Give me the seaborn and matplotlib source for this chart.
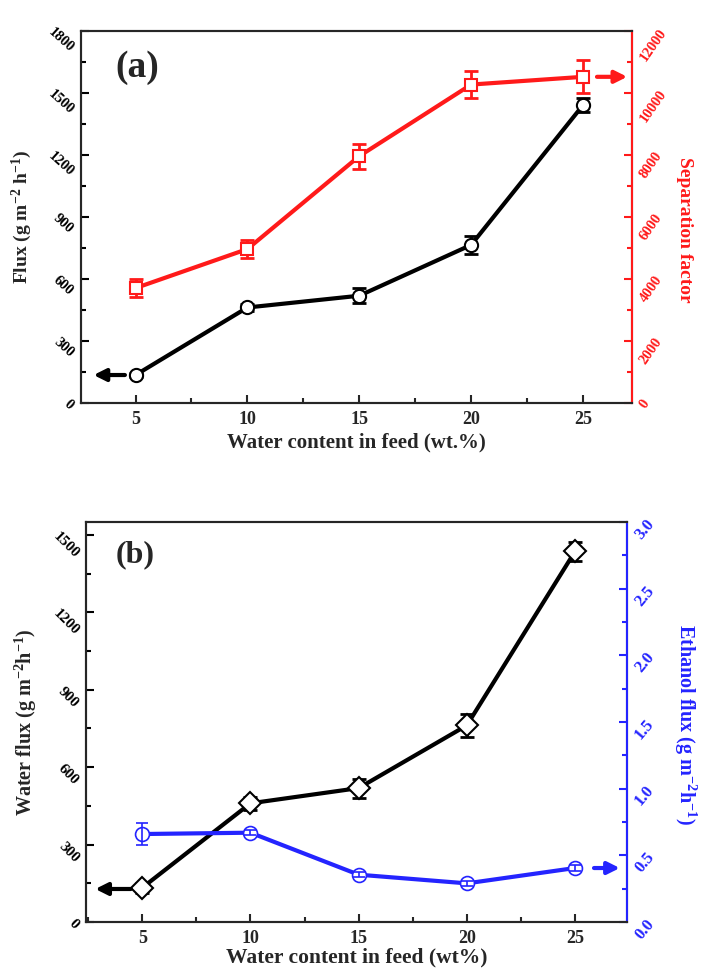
import numpy as np
import pandas as pd
import matplotlib
matplotlib.use("Agg")
import matplotlib.pyplot as plt
from matplotlib.ticker import MultipleLocator
import seaborn as sns

# data
water = [5, 10, 15, 20, 25]
flux_a = [134, 461, 518, 764, 1441]
flux_a_err = [12, 15, 35, 45, 35]
sep_factor = [3700, 4960, 7960, 10270, 10520]
sep_factor_err = [300, 290, 400, 440, 530]

water_flux = [133, 460, 519, 762, 1436]
water_flux_err = [20, 25, 37, 44, 37]
ethanol_flux = [0.66, 0.67, 0.355, 0.29, 0.405]
ethanol_flux_err = [0.085, 0.02, 0.02, 0.02, 0.02]

sns.set_style("ticks")
plt.rcParams['font.family'] = ['Liberation Serif', 'DejaVu Serif']
plt.rcParams['font.weight'] = 'bold'
plt.rcParams['axes.labelweight'] = 'bold'
plt.rcParams['mathtext.fontset'] = 'custom'
plt.rcParams['mathtext.rm'] = 'Liberation Serif:bold'
plt.rcParams['mathtext.default'] = 'rm'

RED = '#ff1a1a'
BLUE = '#2424ff'

df = pd.DataFrame({'water': water, 'flux_a': flux_a, 'sep': sep_factor,
                   'wflux': water_flux, 'eflux': ethanol_flux})

fig = plt.figure(figsize=(7.08, 9.68), dpi=100)


def style_axis(ax, color, side, rot, size=10.5):
    ax.tick_params(axis='y', which='both', direction='in', colors=color,
                   labelsize=size, left=(side == 'left'), right=(side == 'right'),
                   labelleft=(side == 'left'), labelright=(side == 'right'))
    ax.tick_params(axis='y', which='major', length=6, width=1.5)
    ax.tick_params(axis='y', which='minor', length=3.5, width=1.5)
    for t in ax.get_yticklabels():
        t.set_rotation(rot)
        t.set_fontweight('bold')


def style_x(ax, pad=4):
    ax.xaxis.set_major_locator(MultipleLocator(5))
    ax.xaxis.set_minor_locator(MultipleLocator(2.5))
    ax.tick_params(axis='x', which='both', direction='in', labelsize=13, top=False, pad=pad)
    ax.tick_params(axis='x', which='major', length=6, width=1.5)
    ax.tick_params(axis='x', which='minor', length=3.5, width=1.5)
    for t in ax.get_xticklabels():
        t.set_fontweight('bold')


# ---------- panel (a) ----------
ax1 = fig.add_axes([0.114, 0.584, 0.779, 0.384])
ax2 = ax1.twinx()

sns.lineplot(data=df, x='water', y='flux_a', ax=ax1, color='black', lw=3,
             marker='o', markersize=9.5, markerfacecolor='white',
             markeredgecolor='black', markeredgewidth=1.5, zorder=3)
ax1.errorbar(water, flux_a, yerr=flux_a_err, fmt='none', ecolor='black',
             elinewidth=2, capsize=5, capthick=2, zorder=2)
sns.lineplot(data=df, x='water', y='sep', ax=ax2, color=RED, lw=3,
             marker='s', markersize=9, markerfacecolor='white',
             markeredgecolor=RED, markeredgewidth=1.5, zorder=3)
ax2.errorbar(water, sep_factor, yerr=sep_factor_err, fmt='none', ecolor=RED,
             elinewidth=2, capsize=5, capthick=2, zorder=2)

ax1.set_xlim(2.55, 27.2)
ax1.set_ylim(0, 1800)
ax1.yaxis.set_major_locator(MultipleLocator(300))
ax1.yaxis.set_minor_locator(MultipleLocator(150))
ax2.set_ylim(0, 12000)
ax2.yaxis.set_major_locator(MultipleLocator(2000))
ax2.yaxis.set_minor_locator(MultipleLocator(1000))
style_x(ax1, pad=6)
style_axis(ax1, 'black', 'left', -42)
style_axis(ax2, RED, 'right', 55)

for sp in ax1.spines.values():
    sp.set_linewidth(1.5)
for sp in ax2.spines.values():
    sp.set_linewidth(1.5)
ax2.spines['right'].set_color(RED)

ax1.set_xlabel('Water content in feed (wt.%)', fontsize=15, labelpad=3)
ax1.set_ylabel(r'Flux (g m$^{-2}$ h$^{-1}$)', fontsize=14, labelpad=8)
ax2.set_ylabel('Separation factor', fontsize=14, color=RED, rotation=270,
               va='center', ha='center')
ax2.yaxis.set_label_coords(1.094, 0.465)
ax1.text(0.063, 0.95, '(a)', transform=ax1.transAxes, fontsize=27,
         fontweight='bold', va='top', ha='left')

ax1.annotate('', xy=(water[0] - 2.0, flux_a[0]), xytext=(water[0] - 0.35, flux_a[0]),
             arrowprops=dict(arrowstyle='-|>', color='black', lw=3, mutation_scale=18))
ax2.annotate('', xy=(water[-1] + 2.1, sep_factor[-1]), xytext=(water[-1] + 0.5, sep_factor[-1]),
             arrowprops=dict(arrowstyle='-|>', color=RED, lw=3, mutation_scale=18))

# ---------- panel (b) ----------
bx1 = fig.add_axes([0.1215, 0.0475, 0.764, 0.4132])
bx2 = bx1.twinx()

sns.lineplot(data=df, x='water', y='wflux', ax=bx1, color='black', lw=3,
             marker='D', markersize=11, markerfacecolor='white',
             markeredgecolor='black', markeredgewidth=1.5, zorder=3)
bx1.errorbar(water, water_flux, yerr=water_flux_err, fmt='none', ecolor='black',
             elinewidth=2, capsize=5, capthick=2, zorder=2)
sns.lineplot(data=df, x='water', y='eflux', ax=bx2, color=BLUE, lw=3,
             marker='o', markersize=10, markerfacecolor='white',
             markeredgecolor=BLUE, markeredgewidth=1.2, zorder=3)
bx2.errorbar(water, ethanol_flux, yerr=ethanol_flux_err, fmt='none', ecolor=BLUE,
             elinewidth=1.2, capsize=4, capthick=1.2, zorder=4)

bx1.set_xlim(2.4, 27.4)
bx1.set_ylim(0, 1550)
bx1.yaxis.set_major_locator(MultipleLocator(300))
bx1.yaxis.set_minor_locator(MultipleLocator(150))
bx2.set_ylim(0, 3.0)
bx2.yaxis.set_major_locator(MultipleLocator(0.5))
bx2.yaxis.set_minor_locator(MultipleLocator(0.25))
style_x(bx1, pad=6)
style_axis(bx1, 'black', 'left', -45, size=11)
style_axis(bx2, BLUE, 'right', 50, size=12)

for sp in bx1.spines.values():
    sp.set_linewidth(1.5)
for sp in bx2.spines.values():
    sp.set_linewidth(1.5)
bx2.spines['right'].set_color(BLUE)

bx1.set_xlabel('Water content in feed (wt%)', fontsize=15.5, labelpad=0)
bx1.set_ylabel(r'Water flux (g m$^{-2}$h$^{-1}$)', fontsize=14.5, labelpad=8)
bx2.set_ylabel(r'Ethanol flux (g m$^{-2}$h$^{-1}$)', fontsize=14.5, color=BLUE,
               rotation=270, va='center', ha='center')
bx2.yaxis.set_label_coords(1.108, 0.495)
bx1.text(0.055, 0.955, '(b)', transform=bx1.transAxes, fontsize=23,
         fontweight='bold', va='top', ha='left')

bx1.annotate('', xy=(water[0] - 2.3, water_flux[0] - 5), xytext=(water[0] - 0.4, water_flux[0] - 5),
             arrowprops=dict(arrowstyle='-|>', color='black', lw=3, mutation_scale=18))
bx2.annotate('', xy=(water[-1] + 2.2, ethanol_flux[-1]), xytext=(water[-1] + 0.75, ethanol_flux[-1]),
             arrowprops=dict(arrowstyle='-|>', color=BLUE, lw=3, mutation_scale=18))

fig.savefig('out.png', dpi=100)
